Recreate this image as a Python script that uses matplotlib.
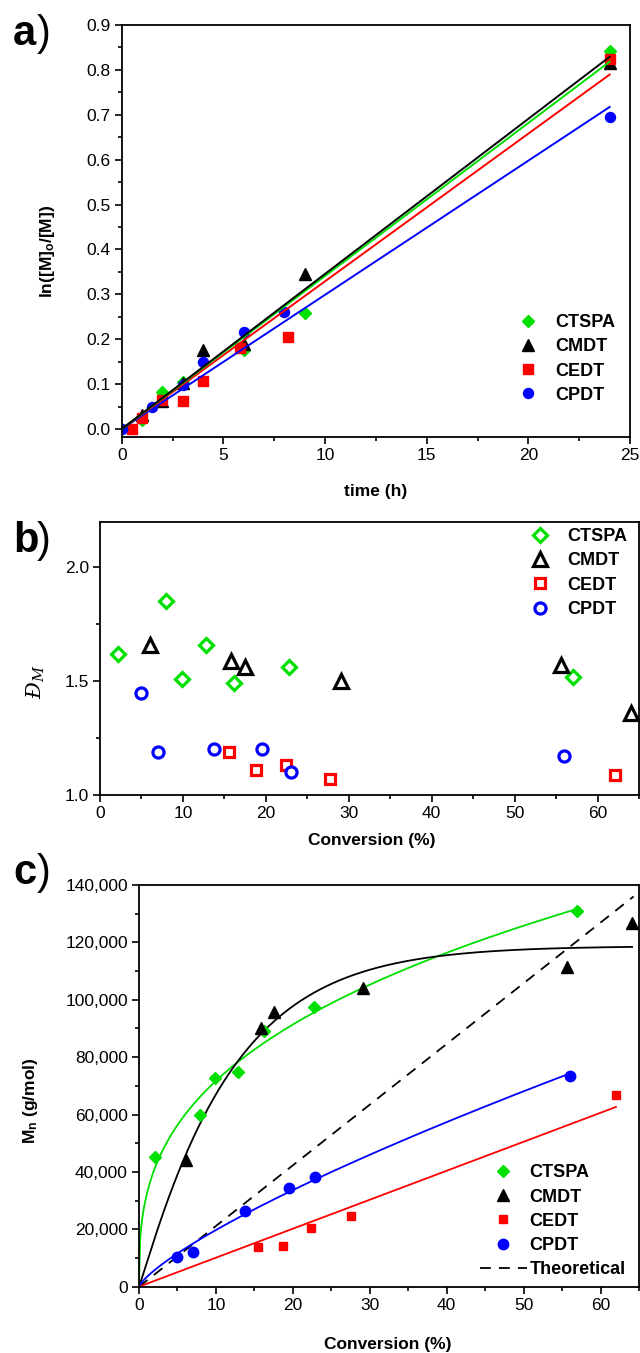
import numpy as np
import matplotlib
matplotlib.use('Agg')
import matplotlib.pyplot as plt
from matplotlib.ticker import MultipleLocator, FuncFormatter

plt.rcParams['font.family'] = ['Liberation Sans', 'DejaVu Sans']
plt.rcParams['mathtext.fontset'] = 'custom'
plt.rcParams['mathtext.rm'] = 'Liberation Sans'
plt.rcParams['mathtext.bf'] = 'Liberation Sans:bold'
plt.rcParams['mathtext.it'] = 'DejaVu Serif:italic'

names = ['CTSPA', 'CMDT', 'CEDT', 'CPDT']
colors = ['#00e000', '#000000', '#ff0000', '#0000ff']
markers = ['D', '^', 's', 'o']

# a) kinetica: ln([M]0/[M]) vs temps (h)
t_ctspa = [1, 2, 3, 6, 9, 24]
ln_ctspa = [0.019, 0.083, 0.104, 0.175, 0.258, 0.843]
t_cmdt = [1, 2, 3, 4, 6, 9, 24]
ln_cmdt = [0.031, 0.062, 0.103, 0.175, 0.19, 0.346, 0.815]
t_cedt = [0.5, 1, 2, 3, 4, 5.8, 8.2, 24]
ln_cedt = [0.0, 0.024, 0.065, 0.062, 0.108, 0.18, 0.204, 0.824]
t_cpdt = [0, 1.5, 3, 4, 6, 8, 24]
ln_cpdt = [0.0, 0.05, 0.098, 0.149, 0.216, 0.26, 0.695]

# b) dispersitat vs conversio (%)
cb_ctspa = [2.2, 7.9, 9.9, 12.8, 16.2, 22.8, 57.0]
d_ctspa = [1.62, 1.85, 1.51, 1.66, 1.49, 1.56, 1.52]
cb_cmdt = [6.0, 15.8, 17.5, 29.1, 55.6, 64.0]
d_cmdt = [1.66, 1.59, 1.56, 1.50, 1.57, 1.36]
cb_cedt = [15.6, 18.8, 22.4, 27.7, 62.1]
d_cedt = [1.19, 1.11, 1.13, 1.07, 1.09]
cb_cpdt = [4.9, 7.0, 13.7, 19.5, 23.0, 56.0]
d_cpdt = [1.45, 1.19, 1.20, 1.20, 1.10, 1.17]

# c) Mn vs conversio (%)
cc_ctspa = [2.1, 7.9, 9.9, 12.85, 16.3, 22.8, 56.9]
mn_ctspa = [45100, 59700, 72600, 74800, 89200, 97600, 131100]
cc_cmdt = [6.1, 15.9, 17.5, 29.1, 55.7, 64.1]
mn_cmdt = [44200, 90100, 95900, 104200, 111300, 126900]
cc_cedt = [15.5, 18.7, 22.4, 27.6, 62.0]
mn_cedt = [13900, 14200, 20300, 24600, 66800]
cc_cpdt = [4.9, 7.0, 13.8, 19.5, 22.9, 56.0]
mn_cpdt = [10500, 12200, 26400, 34300, 38300, 73600]
theo_conv = [0, 64.3]
theo_mn = [0, 136000]


def pendent_origen(x, y):
    x = np.asarray(x, float)
    y = np.asarray(y, float)
    return (x * y).sum() / (x * x).sum()


def ajust_potencia(x, y):
    # y = a*x^b, minims quadrats en escala lineal
    x = np.asarray(x, float)
    y = np.asarray(y, float)
    millor = None
    for b in np.linspace(0.1, 1.5, 1401):
        f = x ** b
        a = (f * y).sum() / (f * f).sum()
        sse = ((a * f - y) ** 2).sum()
        if millor is None or sse < millor[0]:
            millor = (sse, a, b)
    return millor[1], millor[2]


def ajust_weibull(x, y):
    # y = A*(1 - exp(-(x/k)^n))
    x = np.asarray(x, float)
    y = np.asarray(y, float)
    millor = None
    for n in np.linspace(0.8, 2.0, 121):
        for k in np.linspace(3, 40, 371):
            f = 1 - np.exp(-(x / k) ** n)
            A = (f * y).sum() / (f * f).sum()
            sse = ((A * f - y) ** 2).sum()
            if millor is None or sse < millor[0]:
                millor = (sse, A, k, n)
    return millor[1:]


def estil_eixos(ax):
    for s in ax.spines.values():
        s.set_linewidth(1.3)
    ax.tick_params(which='both', direction='out', top=False, right=False, width=1.2)
    ax.tick_params(which='major', length=5, labelsize=12.5, pad=3)
    ax.tick_params(which='minor', length=3)


fig = plt.figure(figsize=(6.4, 13.53), dpi=100)

# ---------------- a)
ax = fig.add_axes([121.7 / 640, 1 - 437.3 / 1353, 508.3 / 640, 412.3 / 1353])
sets_a = [(t_ctspa, ln_ctspa), (t_cmdt, ln_cmdt), (t_cedt, ln_cedt), (t_cpdt, ln_cpdt)]
mida_a = [5.8, 8, 6.5, 7.2]
for (x, y), nom, c, m, ms in zip(sets_a, names, colors, markers, mida_a):
    ax.plot(x, y, ls='none', marker=m, ms=ms, color=c, mec=c, label=nom, zorder=2)
for i in [3, 2, 0, 1]:
    x, y = sets_a[i]
    k = pendent_origen(x, y)
    xx = np.array([0, max(x)])
    ax.plot(xx, k * xx, color=colors[i], lw=1.4, zorder=3)
ax.set_xlim(0, 25)
ax.set_ylim(-0.0185, 0.9)
ax.xaxis.set_major_locator(MultipleLocator(5))
ax.xaxis.set_minor_locator(MultipleLocator(2.5))
ax.yaxis.set_major_locator(MultipleLocator(0.1))
ax.yaxis.set_minor_locator(MultipleLocator(0.05))
ax.yaxis.set_major_formatter(FuncFormatter(lambda v, p: '%.1f' % v))
estil_eixos(ax)
ax.set_xlabel('time (h)', fontsize=12.5, fontweight='bold')
ax.set_ylabel(r'ln([M]$_\mathbf{o}$/[M])', fontsize=12.5, fontweight='bold')
ax.xaxis.set_label_coords(0.5, -0.113)
ax.yaxis.set_label_coords(-0.127, 0.45)
ax.legend(loc='center left', bbox_to_anchor=(0.782, 0.19), frameon=False,
          prop={'weight': 'bold', 'size': 13}, handlelength=1.0, handletextpad=1.0,
          labelspacing=0.4, borderpad=0, borderaxespad=0)

# ---------------- b)
ax = fig.add_axes([100 / 640, 1 - 795 / 1353, 539 / 640, 273.3 / 1353])
sets_b = [(cb_ctspa, d_ctspa), (cb_cmdt, d_cmdt), (cb_cedt, d_cedt), (cb_cpdt, d_cpdt)]
mida_b = [7.5, 10, 6.5, 8]
for (x, y), nom, c, m, ms in zip(sets_b, names, colors, markers, mida_b):
    ax.plot(x, y, ls='none', marker=m, ms=ms, mfc='white', mec=c, mew=2.3, label=nom, clip_on=False)
ax.set_xlim(0, 65)
ax.set_ylim(1.0, 2.2)
ax.xaxis.set_major_locator(MultipleLocator(10))
ax.xaxis.set_minor_locator(MultipleLocator(5))
ax.yaxis.set_major_locator(MultipleLocator(0.5))
ax.yaxis.set_minor_locator(MultipleLocator(0.25))
ax.yaxis.set_major_formatter(FuncFormatter(lambda v, p: '%.1f' % v))
estil_eixos(ax)
ax.set_xlabel('Conversion (%)', fontsize=12.5, fontweight='bold')
ax.set_ylabel(r'$Đ_M$', fontsize=15)
ax.xaxis.set_label_coords(0.504, -0.14)
ax.yaxis.set_label_coords(-0.098, 0.413)
ax.legend(loc='center left', bbox_to_anchor=(0.80, 0.812), frameon=False,
          prop={'weight': 'bold', 'size': 13}, handlelength=1.0, handletextpad=1.0,
          labelspacing=0.4, borderpad=0, borderaxespad=0)

# ---------------- c)
ax = fig.add_axes([139 / 640, 1 - 1286.7 / 1353, 500 / 640, 401.7 / 1353])
sets_c = [(cc_ctspa, mn_ctspa), (cc_cmdt, mn_cmdt), (cc_cedt, mn_cedt), (cc_cpdt, mn_cpdt)]
mida_c = [6, 8, 6, 7.5]
for (x, y), nom, c, m, ms in zip(sets_c, names, colors, markers, mida_c):
    ax.plot(x, y, ls='none', marker=m, ms=ms, color=c, mec=c, label=nom, zorder=3)
ax.plot(theo_conv, theo_mn, color='black', lw=1.3, dashes=(6, 4.5), label='Theoretical', zorder=2)
# corbes d'ajust
a_g, b_g = ajust_potencia(cc_ctspa, mn_ctspa)
xx = np.linspace(0, max(cc_ctspa), 400)
ax.plot(xx, a_g * xx ** b_g, color=colors[0], lw=1.3, zorder=2)
A_k, k_k, n_k = ajust_weibull(cc_cmdt, mn_cmdt)
xx = np.linspace(0, max(cc_cmdt), 400)
ax.plot(xx, A_k * (1 - np.exp(-(xx / k_k) ** n_k)), color=colors[1], lw=1.3, zorder=2)
k_r = pendent_origen(cc_cedt, mn_cedt)
xx = np.array([0, max(cc_cedt)])
ax.plot(xx, k_r * xx, color=colors[2], lw=1.3, zorder=2)
a_b, b_b = ajust_potencia(cc_cpdt, mn_cpdt)
xx = np.linspace(0, max(cc_cpdt), 400)
ax.plot(xx, a_b * xx ** b_b, color=colors[3], lw=1.3, zorder=2)
ax.set_xlim(0, 65)
ax.set_ylim(0, 140000)
ax.xaxis.set_major_locator(MultipleLocator(10))
ax.xaxis.set_minor_locator(MultipleLocator(5))
ax.yaxis.set_major_locator(MultipleLocator(20000))
ax.yaxis.set_minor_locator(MultipleLocator(10000))
ax.yaxis.set_major_formatter(FuncFormatter(lambda v, p: '{:,.0f}'.format(v)))
estil_eixos(ax)
ax.set_xlabel('Conversion (%)', fontsize=12.5, fontweight='bold')
ax.set_ylabel(r'M$_\mathbf{n}$ (g/mol)', fontsize=12.5, fontweight='bold')
ax.xaxis.set_label_coords(0.498, -0.125)
ax.yaxis.set_label_coords(-0.198, 0.462)
ax.legend(loc='center left', bbox_to_anchor=(0.682, 0.163), frameon=False,
          prop={'weight': 'bold', 'size': 13}, handlelength=2.6, handletextpad=0.15,
          labelspacing=0.4, borderpad=0, borderaxespad=0)

# etiquetes dels panells
for lletra, yb in [('a', 45), ('b', 552), ('c', 884)]:
    fig.text(13 / 640, 1 - yb / 1353, lletra, fontsize=30, fontweight='bold', va='baseline')
    fig.text(37 / 640, 1 - yb / 1353, ')', fontsize=30, va='baseline')

fig.savefig('out.png', dpi=100)
